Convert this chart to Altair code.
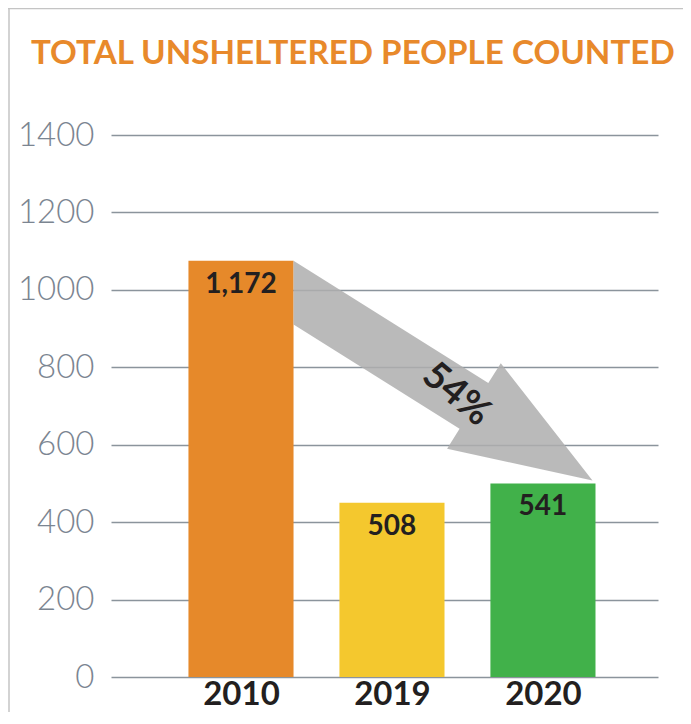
import json
import math
import altair as alt
import pandas as pd

# ---- data ----
years = ["2010", "2019", "2020"]
bar_heights = [1075, 450, 500]          # bar heights as drawn against the axis
bar_labels = ["1,172", "508", "541"]    # printed values
bar_colors = ["#E6892A", "#F4C82E", "#41B14A"]
y_ticks = [0, 200, 400, 600, 800, 1000, 1200, 1400]
change_label = "54%"
title_text = "TOTAL UNSHELTERED PEOPLE COUNTED"

# ---- layout ----
W, H = 547, 542
Y_MAX = 1400
X_MIN, X_MAX = -0.861, 2.762
HALF = 0.348


def to_px(x, y):
    return ((x - X_MIN) / (X_MAX - X_MIN) * W, H - y / Y_MAX * H)


def to_data(px, py):
    return (X_MIN + px / W * (X_MAX - X_MIN), (H - py) / H * Y_MAX)


bars = pd.DataFrame({
    "idx": list(range(len(years))),
    "year": years,
    "value": bar_heights,
    "label": bar_labels,
})

# ---- arrow from top-right corner of first bar to top-right corner of last bar ----
Sx, Sy = to_px(0 + HALF, bar_heights[0])
Tx, Ty = to_px(2 + HALF, bar_heights[2])
Tx, Ty = Tx - 3, Ty - 3
Dx, Dy = Tx - Sx, Ty - Sy
L = math.hypot(Dx, Dy)
phi = math.atan2(Dy, Dx)
hw = 27.0
theta = phi - math.asin(hw / L)
ux, uy = math.cos(theta), math.sin(theta)
nx, ny = -math.sin(theta), math.cos(theta)
head_len, head_hw = 140.0, 50.5
bx, by = Tx - head_len * ux, Ty - head_len * uy
poly_px = [
    (Sx, Sy),
    (bx - hw * nx, by - hw * ny),
    (bx - head_hw * nx, by - head_hw * ny),
    (Tx, Ty),
    (bx + head_hw * nx, by + head_hw * ny),
    (bx + hw * nx, by + hw * ny),
    (Sx, Sy + 2 * hw / math.cos(theta)),
]
arrow = pd.DataFrame(
    [{"i": i, "ax": to_data(px, py)[0], "ay": to_data(px, py)[1]} for i, (px, py) in enumerate(poly_px)]
)
tx_px, ty_px = Tx - 161 * ux, Ty - 161 * uy
pct = pd.DataFrame([{"px": to_data(tx_px, ty_px)[0], "py": to_data(tx_px, ty_px)[1], "t": change_label}])

xscale = alt.Scale(domain=[X_MIN, X_MAX], nice=False, zero=False)
yscale = alt.Scale(domain=[0, Y_MAX], nice=False)

x_axis = alt.Axis(
    values=list(range(len(years))),
    labelExpr=json.dumps(years) + "[datum.value]",
    grid=False, domain=False, ticks=False, title=None,
    labelFont="Lato", labelFontWeight="bold", labelFontSize=33, labelColor="#231F20",
    labelPadding=1, labelFlush=False, labelOverlap=False,
)
y_axis = alt.Axis(
    values=y_ticks, format="d", grid=True, gridColor="#8B949C", gridWidth=1.5,
    domain=False, ticks=False, title=None,
    labelFont="Lato", labelFontWeight=300, labelFontSize=33, labelColor="#7B8591",
    labelPadding=17,
)

bar_layer = alt.Chart(bars).transform_calculate(
    x0=f"datum.idx - {HALF}", x1=f"datum.idx + {HALF}"
).mark_bar().encode(
    x=alt.X("x0:Q", scale=xscale, axis=x_axis),
    x2="x1:Q",
    y=alt.Y("value:Q", scale=yscale, axis=y_axis),
    y2=alt.datum(0),
    color=alt.Color("year:N", scale=alt.Scale(domain=years, range=bar_colors), legend=None),
)

arrow_layer = alt.Chart(arrow).mark_line(filled=True, color="#AEAEAE", opacity=0.85, strokeWidth=0).encode(
    x=alt.X("ax:Q", scale=xscale, axis=x_axis),
    y=alt.Y("ay:Q", scale=yscale, axis=y_axis),
    order=alt.Order("i:Q"),
)

label_layer = alt.Chart(bars).mark_text(
    font="Lato", fontWeight="bold", fontSize=28, color="#231F20", baseline="middle", dy=24
).encode(
    x=alt.X("idx:Q", scale=xscale, axis=x_axis),
    y=alt.Y("value:Q", scale=yscale, axis=y_axis),
    text="label:N",
)

pct_layer = alt.Chart(pct).mark_text(
    font="Lato", fontWeight="bold", fontSize=38, color="#231F20", baseline="middle", align="center", angle=40
).encode(
    x=alt.X("px:Q", scale=xscale, axis=x_axis),
    y=alt.Y("py:Q", scale=yscale, axis=y_axis),
    text="t:N",
)

one = alt.Data(values=[{}])
title_layer = alt.Chart(one).mark_text(
    text=title_text, font="Lato", fontWeight="bold", fontSize=33.2, color="#E8892B",
    align="left", baseline="alphabetic",
).encode(x=alt.value(-80), y=alt.value(-71))

frame_top = alt.Chart(one).mark_rule(color="#C4C4C4", strokeWidth=1.5).encode(
    x=alt.value(-103), x2=alt.value(W + 25), y=alt.value(-126.5)
)
frame_left = alt.Chart(one).mark_rule(color="#C4C4C4", strokeWidth=1.5).encode(
    x=alt.value(-102), y=alt.value(-127), y2=alt.value(H + 35)
)

chart = alt.layer(
    bar_layer, arrow_layer, label_layer, pct_layer, title_layer, frame_top, frame_left
).properties(
    width=W, height=H,
    autosize=alt.AutoSizeParams(type="none"),
    padding={"left": 103, "top": 127, "right": 25, "bottom": 35},
    background="white",
).configure_view(stroke=None)

chart.save("out.html", embed_options={"renderer": "svg", "actions": False})
